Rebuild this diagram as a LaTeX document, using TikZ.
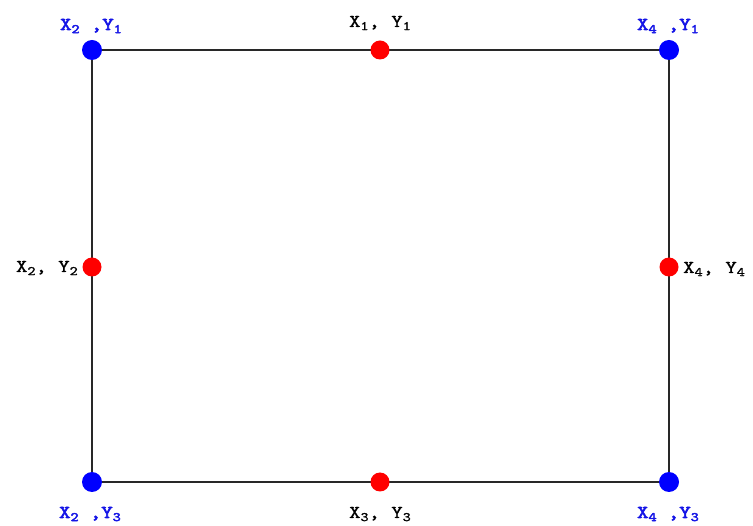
\documentclass[tikz,border=0pt]{standalone}
\usepackage{fontspec}
\newfontfamily\lblfont[FakeStretch=1.2,FakeBold=1.2]{lmmono10-regular.otf}
\newfontfamily\lblbold[FakeStretch=1.2,FakeBold=3]{lmmono10-regular.otf}
\newcommand{\subx}[1]{\raisebox{-0.4ex}{\fontsize{13}{13}\selectfont #1}}
\definecolor{dotblue}{RGB}{0,0,255}
\definecolor{dotred}{RGB}{255,0,0}
\definecolor{labblue}{RGB}{20,20,230}
\definecolor{edge}{RGB}{40,40,40}
\tikzset{
  corner/.style={circle,fill=dotblue,minimum size=20pt,inner sep=0pt},
  middot/.style={circle,fill=dotred,minimum size=19pt,inner sep=0pt},
  blab/.style={inner sep=0pt,anchor=base,text=labblue,font=\lblbold\fontsize{18}{18}\selectfont},
  klab/.style={inner sep=0pt,anchor=base,text=black,font=\lblfont\fontsize{18}{18}\selectfont},
  side/.style={draw=edge,line width=1.8pt}
}
\begin{document}
\begin{tikzpicture}[x=1pt,y=-1pt]
\useasboundingbox (0,0) rectangle (753,526);
\coordinate (c1) at (92,50);
\coordinate (c2) at (669,50);
\coordinate (c3) at (669,482);
\coordinate (c4) at (92,482);
\draw[side] (c1) -- (c2) -- (c3) -- (c4) -- cycle;
\node[corner] (tl) at (c1) {};
\node[corner] (tr) at (c2) {};
\node[corner] (br) at (c3) {};
\node[corner] (bl) at (c4) {};
\node[middot] (mt) at (380,50) {};
\node[middot] (ml) at (92,267) {};
\node[middot] (mr) at (669,267) {};
\node[middot] (mb) at (380,482) {};
\node[blab] (ltl) at (91,30) {X\subx{2} ,Y\subx{1}};
\node[blab] (ltr) at (668,30) {X\subx{4} ,Y\subx{1}};
\node[blab] (lbl) at (90,518) {X\subx{2} ,Y\subx{3}};
\node[blab] (lbr) at (668,518) {X\subx{4} ,Y\subx{3}};
\node[klab] (lmt) at (380,27) {X\subx{1}, Y\subx{1}};
\node[klab] (lmb) at (380,518) {X\subx{3}, Y\subx{3}};
\node[klab,anchor=base east] (lml) at (78,272) {X\subx{2}, Y\subx{2}};
\node[klab,anchor=base west] (lmr) at (683,273) {X\subx{4}, Y\subx{4}};
\end{tikzpicture}
\end{document}
